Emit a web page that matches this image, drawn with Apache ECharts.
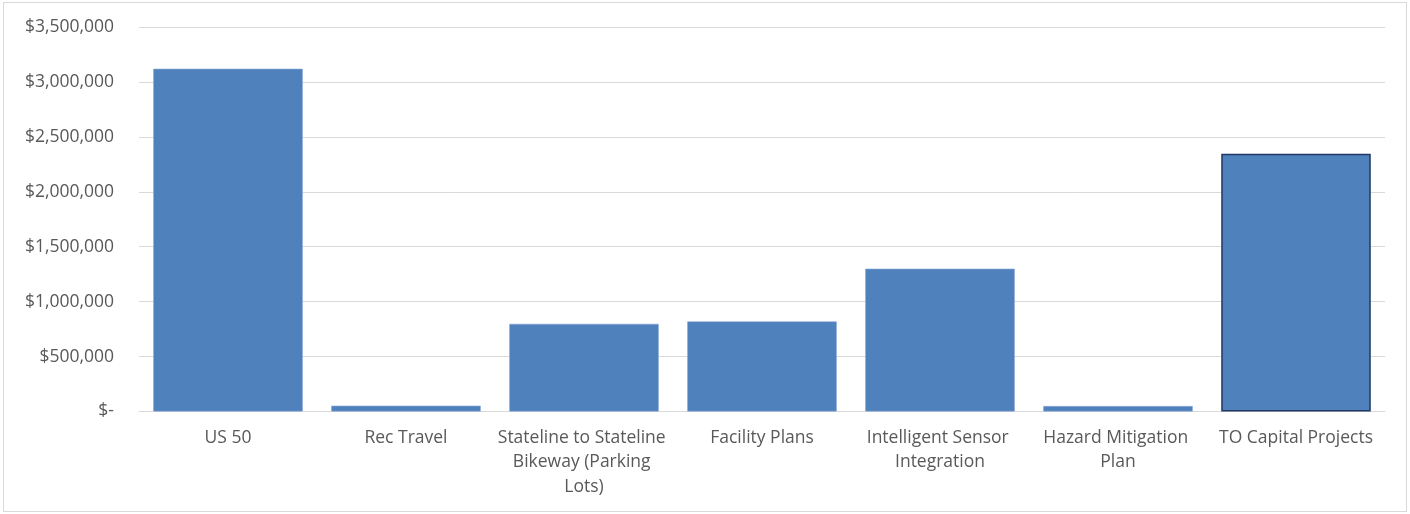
<!DOCTYPE html>
<html>
<head>
<meta charset="utf-8">
<script src="https://cdn.jsdelivr.net/npm/echarts@6/dist/echarts.min.js"></script>
<style>
  html, body { margin: 0; padding: 0; background: #fff; }
  #frame { position: absolute; left: 3px; top: 2px; width: 1404px; height: 510px; border: 1px solid #d9d9d9; box-sizing: border-box; }
  #main { position: absolute; left: 0; top: 0; width: 1410px; height: 514px; }
</style>
</head>
<body>
<div id="frame"></div>
<div id="main"></div>
<script>
var projects = ['US 50', 'Rec Travel', 'Stateline to Stateline Bikeway (Parking Lots)', 'Facility Plans',
  'Intelligent Sensor Integration', 'Hazard Mitigation Plan', 'TO Capital Projects'];
var funding = [3120000, 53000, 798000, 820000, 1300000, 50000, 2347000];
var highlighted = 'TO Capital Projects'; // the one with the dark outline

function money(v){
  if (v === 0) return '$-';
  return '$' + v.toLocaleString('en-US');
}

var myChart = echarts.init(document.getElementById('main'));
var textFont = { fontFamily: 'Open Sans', fontSize: 17.5, color: '#595959' };

var option = {
  animation: false,
  grid: { left: 139, right: 25, top: 27, bottom: 102.5 },
  xAxis: {
    type: 'category',
    data: projects,
    axisLine: { lineStyle: { color: '#d9d9d9', width: 1 } },
    axisTick: { show: false },
    axisLabel: Object.assign({
      interval: 0, margin: 14, width: 178, overflow: 'break', lineHeight: 24.5, align: 'center'
    }, textFont)
  },
  yAxis: {
    type: 'value',
    min: 0, max: 3500000, interval: 500000,
    axisLine: { show: false },
    axisTick: { show: false },
    splitLine: { lineStyle: { color: '#d9d9d9', width: 1 } },
    axisLabel: Object.assign({ margin: 25, formatter: money }, textFont)
  },
  series: [{
    type: 'bar',
    barCategoryGap: '16%',
    data: funding.map(function(v, i){
      var item = { value: v };
      if (projects[i] === highlighted) {
        item.itemStyle = { borderColor: '#1f3864', borderWidth: 1.5 };
      }
      return item;
    }),
    itemStyle: { color: '#4f81bd', borderColor: '#8eaad8', borderWidth: 0.6 }
  }]
};

myChart.setOption(option);
</script>
</body>
</html>
